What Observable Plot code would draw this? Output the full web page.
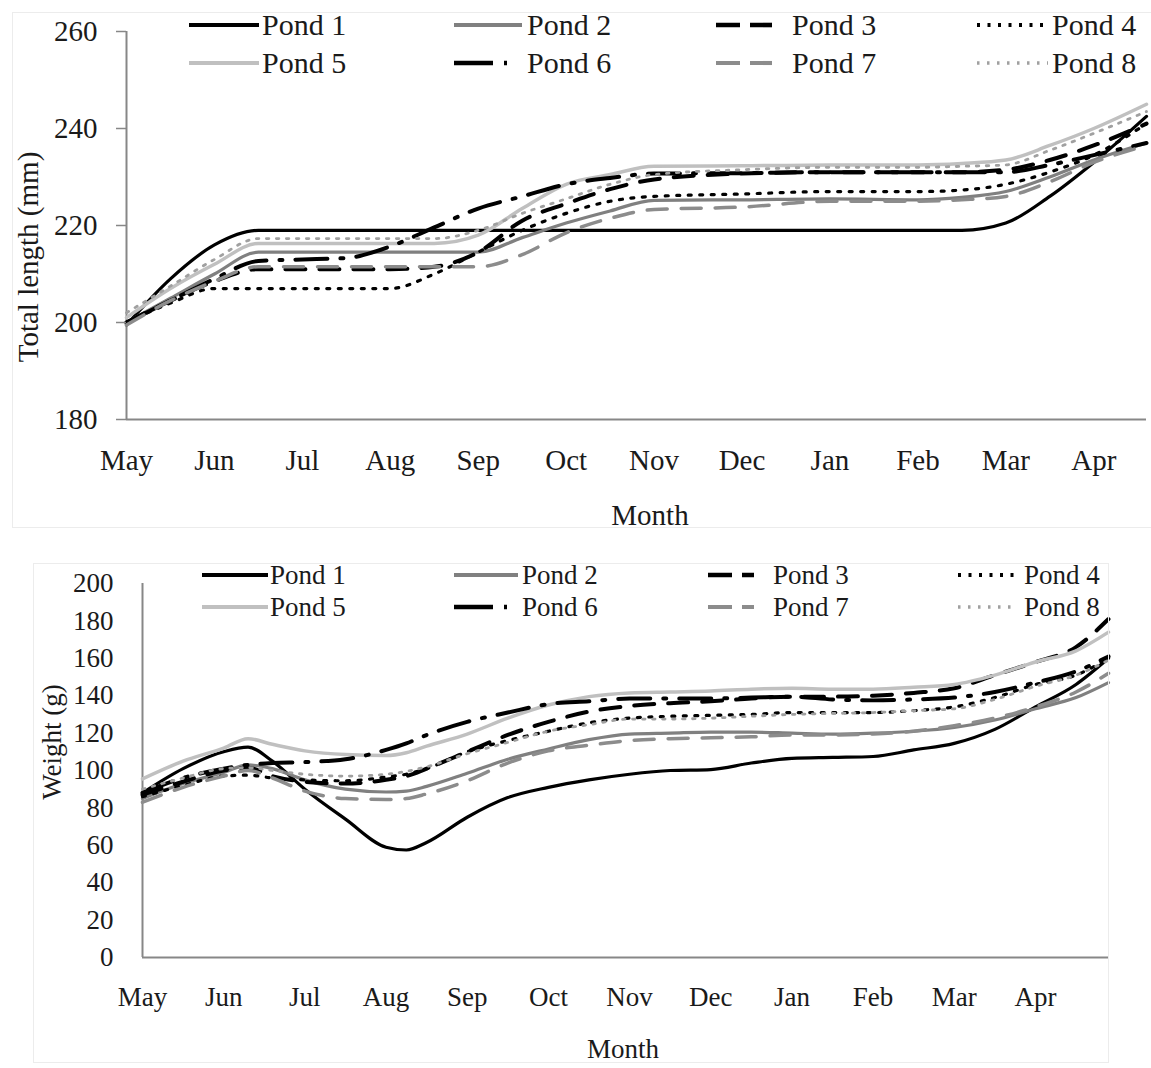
<!DOCTYPE html>
<html><head><meta charset="utf-8">
<script src="https://cdn.jsdelivr.net/npm/d3@7"></script>
<script src="https://cdn.jsdelivr.net/npm/@observablehq/plot@0.6"></script>
<style>
body{margin:0;background:#fff;}
#wrap{position:relative;width:1151px;height:1068px;overflow:hidden;background:#fff;font-family:"Liberation Serif","Times New Roman",serif;}
.panel{position:absolute;overflow:hidden;}
.panel svg{position:absolute;left:0;top:0;}
</style></head><body><div id="wrap"></div>
<script>
// ---------- data ----------
const months = ["May","Jun","Jul","Aug","Sep","Oct","Nov","Dec","Jan","Feb","Mar","Apr"];
const pondNames = ["Pond 1","Pond 2","Pond 3","Pond 4","Pond 5","Pond 6","Pond 7","Pond 8"];

// Total length (mm), sampled at month offsets from May
const lengthMonths = [0,0.5,1,1.5,2,2.5,3,3.5,4,4.5,5,5.5,6,7,8,9,9.5,10,10.5,11,11.6];
const lengthPond1 = [199.5,209,216,219,219,219,219,219,219,219,219,219,219,219,219,219,219,220.5,226,233,242.5];
const lengthPond2 = [200,205,210,214.5,214.5,214.5,214.5,214.5,214.5,217.5,220.5,223,225.2,225.3,225.5,225.3,225.8,227,230,233.5,237];
const lengthPond3 = [200,204.5,208.5,211,211,211,211,211.5,214.5,221,224.5,227.5,229.5,230.7,231,231,231,231.5,233.5,236.5,241];
const lengthPond4 = [200,204,207,207,207,207,207,210,214.5,219,222.5,225,226,226.5,227,227,227.3,228.5,231,234.5,241];
const lengthPond5 = [201,207,212,216.3,216.3,216.3,216.3,216.3,218,223.5,228.5,230.5,232.2,232.3,232.5,232.5,232.8,233.5,236.5,240,245];
const lengthPond6 = [200,204.5,209,212.7,213,213.3,215.7,219.6,223.5,226,228.5,229.8,230.7,230.8,231,231,231,231,232.5,234.5,237];
const lengthPond7 = [199.5,204.5,208.5,211.5,211.5,211.5,211.5,211.5,211.5,214,218.5,221.5,223.3,223.8,225,225,225.3,226,229,233,236.5];
const lengthPond8 = [202,207.5,213,217.3,217.3,217.3,217.3,217.3,219,222.5,225.5,228.5,230.5,231.5,232,232,232.2,232.5,235.5,239,243.5];
const lengthTicks = [180,200,220,240,260];

// Weight (g)
const weightMonths = [0,0.5,1,1.3,1.6,2,2.5,3,3.25,3.5,4,4.5,5,5.5,6,6.5,7,7.5,8,8.5,9,9.5,10,10.5,11,11.5,11.9];
const weightPond1 = [88,101,110,112.5,105,90,74,59,57.5,61.5,75,85.5,91,95,98,100,100.5,104,106.5,107,107.5,111,114.5,122,134,146,160];
const weightPond2 = [85,93,99,103,101,95,90,88.5,89,91.5,98.5,106,111.5,116.5,119.5,120,120.5,120.5,120,119.5,120,121,123,127,133,139,147];
const weightPond3 = [87,94,100,101.5,97,94,93,95,97,101,110,119,126,131.5,134.5,136,137,138.5,139.5,139.5,140,141.5,144,151,158,166,181];
const weightPond4 = [86,92,97,97.5,96,95,94.5,96.5,98,101,110,116,121,125.5,128,129,129.5,130,131,131,131,132,134,139,146,151,160];
const weightPond5 = [95.5,105,112,117,114,110.5,108.5,108,109.5,113,119.5,128,135,139.5,141.5,142,142.5,143.5,144,143.5,143.5,144.5,146,151,158,164,174];
const weightPond6 = [88,96,101,103,104,104.5,106,111,114.5,119,126,131,135.5,137,138.5,138.5,138.5,139,139.5,138,137.5,138,139,142,147,153,161];
const weightPond7 = [83,91,97,100,96,89,85,84.5,85,87.5,94.5,104,110.5,113.5,116,117,117.5,118,119,119,119.5,121,124,128,134,142,152];
const weightPond8 = [90,96,101,101.5,100,98,97,98,99.5,102,109,115,121,124.5,127.5,127.5,128,129,130,130.5,131,132,133,138,145,151,159];
const weightTicks = [0,20,40,60,80,100,120,140,160,180,200];

// ---------- styles ----------
const pondStyles = [
  {stroke:"#000000", width:3.2, dash:null,          legendDash:null},
  {stroke:"#808080", width:3.2, dash:null,          legendDash:null},
  {stroke:"#000000", width:4,   dash:"20,14",       legendDash:"24,10"},
  {stroke:"#000000", width:3.2, dash:"3,8.5",       legendDash:"3,7.5"},
  {stroke:"#c0c0c0", width:3.5, dash:null,          legendDash:null},
  {stroke:"#000000", width:4,   dash:"32,13,3,13",  legendDash:"39,11,3,100"},
  {stroke:"#8c8c8c", width:3.5, dash:"20,14",       legendDash:"24,10"},
  {stroke:"#a0a0a0", width:2.8, dash:"2.5,7.5",     legendDash:"2.5,7.5"}
];
const axisColor = "#878787";
const textColor = "#1a1a1a";

const wrap = document.getElementById("wrap");

function makePanel(left, top, w, h) {
  const d = document.createElement("div");
  d.className = "panel";
  Object.assign(d.style, {left: left + "px", top: top + "px", width: w + "px", height: h + "px"});
  wrap.appendChild(d);
  return d;
}

function makeChart(cfg) {
  const marks = [
    Plot.ruleY([cfg.yDomain[0]], {stroke: axisColor, strokeWidth: 2}),
    Plot.ruleX([0], {stroke: axisColor, strokeWidth: 2})
  ];
  cfg.series.forEach((vals, k) => {
    const st = pondStyles[k];
    const rows = cfg.months.map((m, i) => ({month: m, value: vals[i], pond: pondNames[k]}));
    const o = {x: "month", y: "value", stroke: st.stroke, strokeWidth: st.width, curve: "monotone-x"};
    if (st.dash) o.strokeDasharray = st.dash;
    marks.push(Plot.line(rows, o));
  });
  marks.push(Plot.axisY({ticks: cfg.yTicks, tickSize: cfg.yTickSize, tickPadding: cfg.yTickPadding,
    stroke: axisColor, strokeWidth: 1.5, label: null, fontSize: cfg.fontSize}));
  marks.push(Plot.axisX({ticks: d3.range(12), tickFormat: i => months[i], tickSize: 0,
    tickPadding: cfg.xTickPadding, label: null, fontSize: cfg.fontSize}));
  return Plot.plot({
    width: cfg.width, height: cfg.height,
    marginLeft: cfg.ml, marginRight: cfg.mr, marginTop: cfg.mt, marginBottom: cfg.mb,
    x: {domain: [0, cfg.xEnd]},
    y: {domain: cfg.yDomain},
    style: {fontFamily: "'Liberation Serif', 'Times New Roman', serif", fontSize: cfg.fontSize + "px",
      color: textColor, background: "transparent", overflow: "visible"},
    marks
  });
}

function overlay(panel, w, h, cfg) {
  const svg = d3.select(panel).append("svg").attr("width", w).attr("height", h)
    .style("font-family", "'Liberation Serif', 'Times New Roman', serif").style("pointer-events", "none");
  // faint frame
  svg.append("rect").attr("x", cfg.frame[0] + 0.5).attr("y", cfg.frame[1] + 0.5)
    .attr("width", cfg.frame[2]).attr("height", cfg.frame[3])
    .attr("fill", "none").attr("stroke", "#ececec").attr("stroke-width", 1);
  // legend
  cfg.legendCols.forEach((col, c) => {
    cfg.legendRows.forEach((ry, r) => {
      const k = r * 4 + c;
      const st = pondStyles[k];
      const ln = svg.append("line").attr("x1", col.x0).attr("x2", col.x1).attr("y1", ry).attr("y2", ry)
        .attr("stroke", st.stroke).attr("stroke-width", st.width + 0.6);
      if (st.legendDash) ln.attr("stroke-dasharray", st.legendDash);
      svg.append("text").attr("x", col.tx).attr("y", ry).attr("dy", "0.33em")
        .attr("font-size", cfg.legendFont).attr("fill", textColor).text(pondNames[k]);
    });
  });
  // axis titles
  svg.append("text").attr("transform", `translate(${cfg.yTitle[0]},${cfg.yTitle[1]}) rotate(-90)`)
    .attr("text-anchor", "middle").attr("dy", "0.33em").attr("font-size", cfg.titleFont)
    .attr("fill", textColor).text(cfg.yTitleText);
  svg.append("text").attr("x", cfg.xTitle[0]).attr("y", cfg.xTitle[1]).attr("dy", "0.33em")
    .attr("text-anchor", "middle").attr("font-size", cfg.titleFont).attr("fill", textColor).text("Month");
}

// ---------- top chart ----------
const p1 = makePanel(0, 0, 1151, 536);
p1.appendChild(makeChart({
  width: 1151, height: 536, ml: 126, mr: 5, mt: 31, mb: 117,
  xEnd: 11.6, yDomain: [180, 260], yTicks: lengthTicks,
  months: lengthMonths,
  series: [lengthPond1, lengthPond2, lengthPond3, lengthPond4, lengthPond5, lengthPond6, lengthPond7, lengthPond8],
  yTickSize: 10, yTickPadding: 19, xTickPadding: 30, fontSize: 29
}));
overlay(p1, 1151, 536, {
  frame: [12, 12, 1160, 515],
  legendRows: [25, 63],
  legendCols: [{x0:189,x1:259,tx:262},{x0:454,x1:522,tx:527},{x0:716,x1:772,tx:792},{x0:977,x1:1048,tx:1052}],
  legendFont: 30, titleFont: 29,
  yTitle: [28, 257], yTitleText: "Total length (mm)", xTitle: [650, 515]
});

// ---------- bottom chart ----------
const p2 = makePanel(0, 540, 1151, 528);
p2.appendChild(makeChart({
  width: 1151, height: 528, ml: 142, mr: 43, mt: 43, mb: 111,
  xEnd: 11.9, yDomain: [0, 200], yTicks: weightTicks,
  months: weightMonths,
  series: [weightPond1, weightPond2, weightPond3, weightPond4, weightPond5, weightPond6, weightPond7, weightPond8],
  yTickSize: 0, yTickPadding: 29, xTickPadding: 29, fontSize: 27
}));
overlay(p2, 1151, 528, {
  frame: [33, 23, 1075, 499],
  legendRows: [35, 67],
  legendCols: [{x0:202,x1:268,tx:270},{x0:454,x1:518,tx:522},{x0:708,x1:754,tx:773},{x0:958,x1:1018,tx:1024}],
  legendFont: 27, titleFont: 27,
  yTitle: [52, 202], yTitleText: "Weight (g)", xTitle: [623, 509]
});
</script></body></html>
